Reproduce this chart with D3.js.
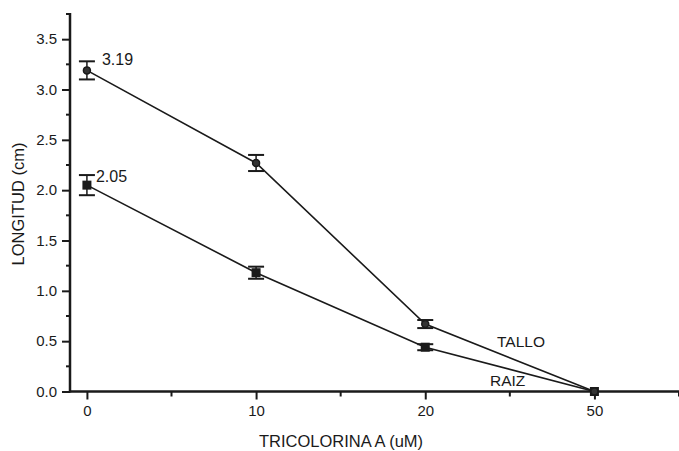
<!DOCTYPE html>
<html>
<head>
<meta charset="utf-8">
<script src="https://cdn.jsdelivr.net/npm/d3@7"></script>
<style>
  body { margin: 0; background: #fff; }
  svg { display: block; }
  text { font-family: "Liberation Sans", Arial, sans-serif; fill: #1a1a1a; }
</style>
</head>
<body>
<svg id="chart" width="679" height="451"></svg>
<script>
// data
var doses = ["0", "10", "20", "50"];
var talloValues = [3.19, 2.27, 0.67, 0.0];
var talloErrors = [0.09, 0.08, 0.04, 0.02];
var raizValues = [2.05, 1.18, 0.44, 0.0];
var raizErrors = [0.10, 0.06, 0.03, 0.02];
var yTicks = [0, 0.5, 1.0, 1.5, 2.0, 2.5, 3.0, 3.5];

var svg = d3.select("#chart");

// x is categorical with even spacing, use index
var x = d3.scaleLinear().domain([-0.1, 3.5]).range([70, 679]);
var y = d3.scaleLinear().domain([0, 3.76]).range([391.5, 13]);

var ink = "#1a1a1a";

// y axis
var yAxis = svg.append("g")
  .attr("transform", "translate(70,0)")
  .call(d3.axisLeft(y).tickValues(yTicks).tickSize(8).tickFormat(d3.format(".1f")));
yAxis.select(".domain").remove();
yAxis.selectAll("line").attr("stroke", ink).attr("stroke-width", 2);
yAxis.selectAll("text").attr("font-size", 15).attr("x", -13);

// minor y ticks
svg.append("g").selectAll("line")
  .data(d3.range(0.25, 3.76, 0.5))
  .enter().append("line")
  .attr("x1", 66).attr("x2", 70)
  .attr("y1", function (d) { return y(d); })
  .attr("y2", function (d) { return y(d); })
  .attr("stroke", ink).attr("stroke-width", 2);

svg.append("line")
  .attr("x1", 70).attr("x2", 70)
  .attr("y1", y(3.76)).attr("y2", y(0) + 1)
  .attr("stroke", ink).attr("stroke-width", 2.5);

// x axis
var xAxis = svg.append("g")
  .attr("transform", "translate(0," + y(0) + ")")
  .call(d3.axisBottom(x).tickValues([0, 1, 2, 3]).tickSize(8)
    .tickFormat(function (d) { return doses[d]; }));
xAxis.select(".domain").remove();
xAxis.selectAll("line").attr("stroke", ink).attr("stroke-width", 2);
xAxis.selectAll("text").attr("font-size", 15).attr("y", 14);

svg.append("g").selectAll("line")
  .data([0.5, 1.5, 2.5, 3.5])
  .enter().append("line")
  .attr("x1", function (d) { return x(d); })
  .attr("x2", function (d) { return x(d); })
  .attr("y1", y(0)).attr("y2", y(0) + 5)
  .attr("stroke", ink).attr("stroke-width", 2);

svg.append("line")
  .attr("x1", 69).attr("x2", 679)
  .attr("y1", y(0)).attr("y2", y(0))
  .attr("stroke", ink).attr("stroke-width", 2.5);

// axis titles
svg.append("text")
  .attr("x", 341).attr("y", 447)
  .attr("text-anchor", "middle")
  .attr("font-size", 16.5)
  .text("TRICOLORINA A (uM)");

svg.append("text")
  .attr("transform", "translate(24,204) rotate(-90)")
  .attr("text-anchor", "middle")
  .attr("font-size", 16.5)
  .text("LONGITUD (cm)");

// series
var line = d3.line()
  .x(function (d, i) { return x(i); })
  .y(function (d) { return y(d); });

function drawSeries(values, errors, shape) {
  var g = svg.append("g");
  g.append("path")
    .datum(values)
    .attr("d", line)
    .attr("fill", "none")
    .attr("stroke", ink)
    .attr("stroke-width", 1.6);

  var bars = g.selectAll(".err")
    .data(values)
    .enter().append("g");
  bars.each(function (d, i) {
    if (i === 3) return;
    var el = d3.select(this);
    var cx = x(i);
    el.append("line")
      .attr("x1", cx).attr("x2", cx)
      .attr("y1", y(d + errors[i])).attr("y2", y(d - errors[i]))
      .attr("stroke", ink).attr("stroke-width", 1.5);
    [d + errors[i], d - errors[i]].forEach(function (v) {
      el.append("line")
        .attr("x1", cx - 8).attr("x2", cx + 8)
        .attr("y1", y(v)).attr("y2", y(v))
        .attr("stroke", ink).attr("stroke-width", 2);
    });
  });

  if (shape === "square") {
    g.selectAll("rect")
      .data(values)
      .enter().append("rect")
      .attr("x", function (d, i) { return x(i) - 4.5; })
      .attr("y", function (d) { return y(d) - 4.5; })
      .attr("width", 9).attr("height", 9)
      .attr("fill", ink);
  } else {
    g.selectAll("circle")
      .data(values)
      .enter().append("circle")
      .attr("cx", function (d, i) { return x(i); })
      .attr("cy", function (d) { return y(d); })
      .attr("r", 3.5)
      .attr("fill", "#333")
      .attr("stroke", ink)
      .attr("stroke-width", 1.5);
  }
}

drawSeries(raizValues, raizErrors, "square");
drawSeries(talloValues, talloErrors, "circle");

// value labels
svg.append("text")
  .attr("x", x(0) + 15).attr("y", y(talloValues[0]) - 5)
  .attr("font-size", 16)
  .text(talloValues[0].toFixed(2));

svg.append("text")
  .attr("x", x(0) + 9).attr("y", y(raizValues[0]) - 3)
  .attr("font-size", 16)
  .text(raizValues[0].toFixed(2));

svg.append("text")
  .attr("x", 497).attr("y", 347)
  .attr("font-size", 15.5)
  .text("TALLO");

svg.append("text")
  .attr("x", 490).attr("y", 386)
  .attr("font-size", 15.5)
  .text("RAIZ");
</script>
</body>
</html>
